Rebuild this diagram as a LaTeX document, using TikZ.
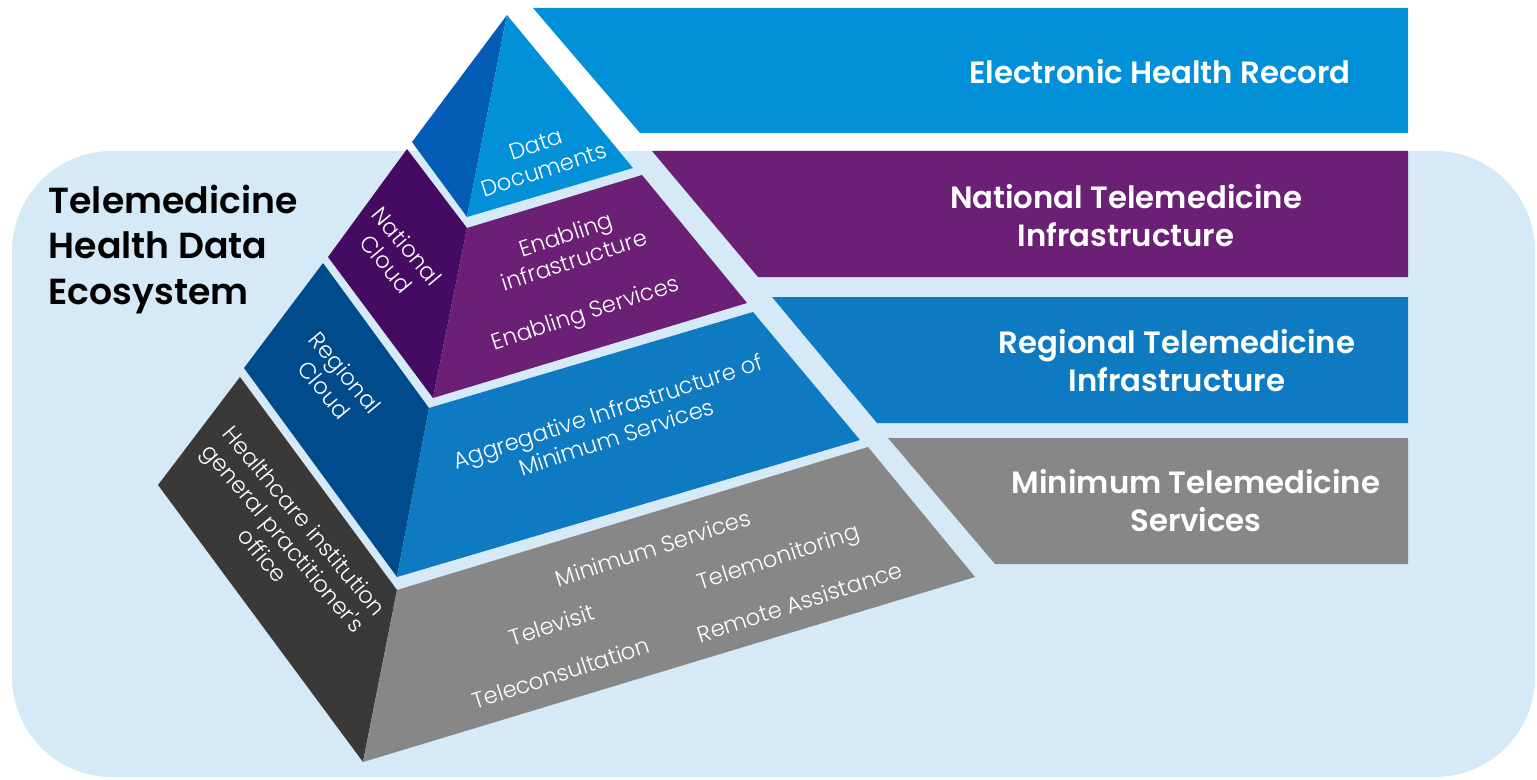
\documentclass[tikz,border=0pt]{standalone}
\usepackage{fontspec}
\setmainfont{Poppins}
\newfontfamily\lightfont{Poppins Light}
\newfontfamily\semifont{Poppins SemiBold}
\definecolor{bgblue}{HTML}{D5E9F6}
\definecolor{ehrblue}{HTML}{0291D9}
\definecolor{topleft}{HTML}{035CB5}
\definecolor{natright}{HTML}{6B1F75}
\definecolor{natleft}{HTML}{450B62}
\definecolor{regright}{HTML}{0E7AC2}
\definecolor{regleft}{HTML}{004B8B}
\definecolor{minright}{HTML}{878787}
\definecolor{minleft}{HTML}{3A3937}
\tikzset{
  bannertext/.style={text=white, align=center, inner sep=0pt, font=\semifont\fontsize{8.75}{10.8}\selectfont},
  facetext/.style={text=white, align=center, inner sep=0pt, font=\lightfont\fontsize{6.45}{7.7}\selectfont},
  righttext/.style={facetext, rotate=18},
  lefttext/.style={facetext, rotate=-50},
  titletext/.style={text=black, align=left, inner sep=0pt, font=\semifont\fontsize{10.3}{13}\selectfont}
}
\begin{document}
\begin{tikzpicture}[x=0.01cm,y=-0.01cm]
\useasboundingbox (0,0) rectangle (1537,779);
% background panel
\fill[bgblue, rounded corners=1cm] (12,151) rectangle (1535,777);
% banners
\fill[ehrblue] (533,8) -- (1408,8) -- (1408,133) -- (640,133) -- cycle;
\fill[natright] (652,151) -- (1408,151) -- (1408,277) -- (758,277) -- cycle;
\fill[regright] (772,297) -- (1408,297) -- (1408,423) -- (877,423) -- cycle;
\fill[minright] (888,438) -- (1408,438) -- (1408,564) -- (995,564) -- cycle;
% pyramid: top
\fill[topleft] (507,15) -- (412,142) -- (467,217) -- cycle;
\fill[ehrblue] (507,15) -- (467,217) -- (633,168) -- cycle;
% national tier
\fill[natleft] (407,149) -- (328,257) -- (433,398) -- (467,228) -- cycle;
\fill[natright] (467,228) -- (642,175) -- (747,303) -- (433,398) -- cycle;
% regional tier
\fill[regleft] (323,263) -- (244,368) -- (397,577) -- (429,408) -- cycle;
\fill[regright] (429,408) -- (753,312) -- (860,440) -- (397,577) -- cycle;
% minimum tier
\fill[minleft] (240,377) -- (158,485) -- (363,762) -- (397,590) -- cycle;
\fill[minright] (397,590) -- (868,447) -- (975,577) -- (363,762) -- cycle;
% title
\node[titletext, anchor=north west] (title) at (48,184) {Telemedicine\\Health Data\\Ecosystem};
% banner texts
\node[bannertext] (ehr) at (1160,72) {Electronic Health Record};
\node[bannertext] (nat) at (1126,216) {National Telemedicine\\Infrastructure};
\node[bannertext] (reg) at (1177,361) {Regional Telemedicine\\Infrastructure};
\node[bannertext] (min) at (1196,501) {Minimum Telemedicine\\Services};
% right face labels
\node[righttext] (data) at (540,157) {Data\\Documents};
\node[righttext] (enabinf) at (570,247) {Enabling\\infrastructure};
\node[righttext] (enabsrv) at (586,315) {Enabling Services};
\node[righttext] (aggr) at (612,424) {Aggregative Infrastructure of\\Minimum Services};
\node[righttext] (minsrv) at (653,548) {Minimum Services};
\node[righttext] (televisit) at (552,625) {Televisit};
\node[righttext] (telecons) at (561,673) {Teleconsultation};
\node[righttext] (telemon) at (779,559) {Telemonitoring};
\node[righttext] (remote) at (800,602) {Remote Assistance};
% left face labels
\node[lefttext] (natcloud) at (397,255) {National\\Cloud};
\node[lefttext] (regcloud) at (335,381) {Regional\\Cloud};
\node[lefttext] (health) at (284,538) {Healthcare institution\\general practitioner's\\office};
\end{tikzpicture}
\end{document}
